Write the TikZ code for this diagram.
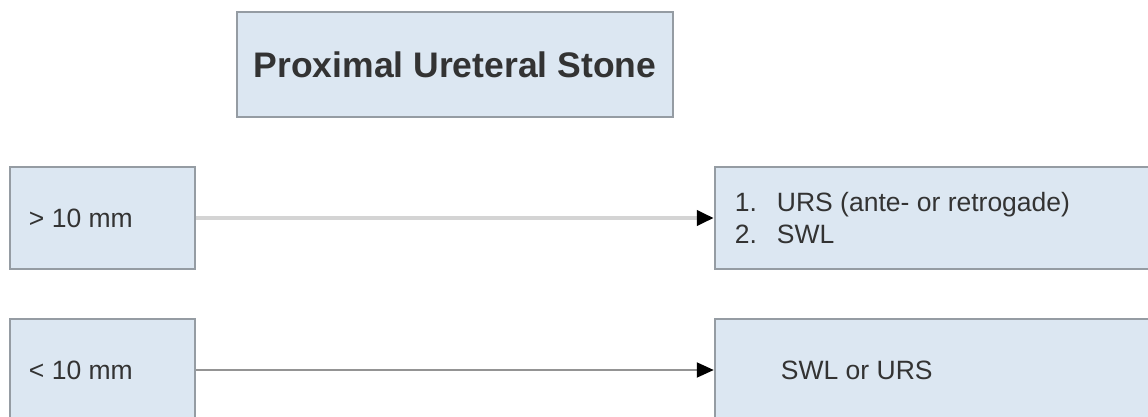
\documentclass[tikz,border=0pt]{standalone}
\usepackage{fontspec}
\setmainfont{Liberation Sans}
\usetikzlibrary{arrows.meta}
\definecolor{boxfill}{HTML}{DCE7F2}
\definecolor{boxline}{HTML}{959CA3}
\definecolor{txt}{HTML}{333333}
\tikzset{
  box/.style={draw=boxline, fill=boxfill, line width=2.5pt, inner sep=0pt},
  lbl/.style={text=txt, inner sep=0pt, anchor=west, font=\fontsize{26.5}{32}\selectfont},
  conn/.style={-{Triangle[length=17pt,width=15pt,black]}},
}
\begin{document}
\begin{tikzpicture}[x=1pt,y=-1pt]
\useasboundingbox (0,0) rectangle (1148,417);
\clip (0,0) rectangle (1148,417);
\fill[white] (0,0) rectangle (1148,417);
% boxes
\node[box, minimum width=436pt, minimum height=105pt] (title) at (455,64.5)
  {\textcolor{txt}{\fontsize{35.5}{40}\selectfont\bfseries Proximal Ureteral Stone}};
\node[box, minimum width=185pt, minimum height=102pt] (big) at (102.5,218) {};
\node[box, minimum width=185pt, minimum height=102pt] (small) at (102.5,370) {};
\node[box, minimum width=445pt, minimum height=102pt] (tbig) at (937.5,218) {};
\node[box, minimum width=445pt, minimum height=102pt] (tsmall) at (937.5,370) {};
% texts
\node[lbl] (tbigl) at ([xshift=20pt]big.west) {> 10 mm};
\node[lbl] (tsmalll) at ([xshift=20pt]small.west) {< 10 mm};
\node[lbl, align=left] (tbigt) at ([xshift=21pt]tbig.west)
  {\makebox[42pt][l]{1.}URS (ante- or retrogade)\\\makebox[42pt][l]{2.}SWL};
\node[lbl] (tsmallt) at ([xshift=67pt]tsmall.west) {SWL or URS};
% connectors
\draw[conn, draw=black!17, line width=4pt] (big.east) -- (tbig.west);
\draw[conn, draw=black!42, line width=2pt] (small.east) -- (tsmall.west);
\end{tikzpicture}
\end{document}
